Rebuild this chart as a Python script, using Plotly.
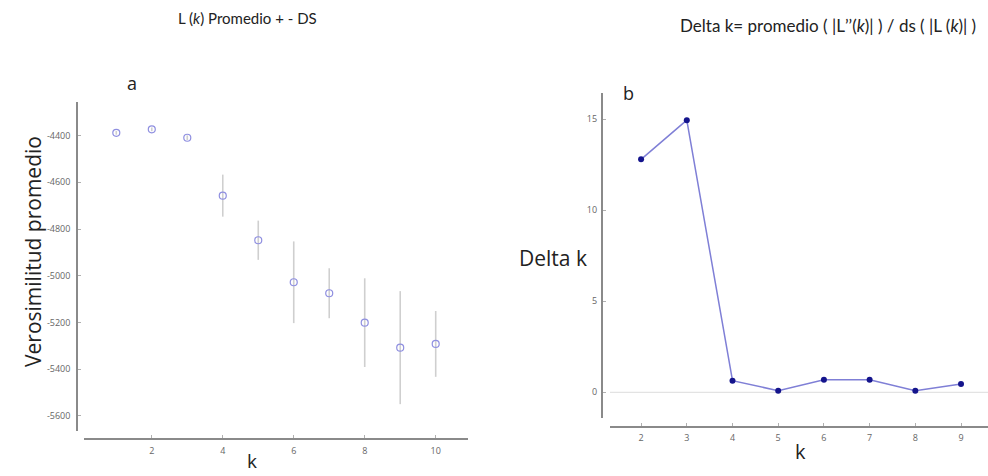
import plotly.graph_objects as go

# Panel a data
k_a = [1, 2, 3, 4, 5, 6, 7, 8, 9, 10]
L_mean = [-4388, -4373, -4409, -4657, -4848, -5028, -5075, -5201, -5308, -5292]
L_sd = [8, 8, 10, 90, 84, 175, 107, 190, 242, 141]
ya_ticks = [-4400, -4600, -4800, -5000, -5200, -5400, -5600]
ya_ticktext = ["-4400", "-4600", "-4800", "-5000", "-5200", "-5400", "-5600"]
xa_ticks = [2, 4, 6, 8, 10]

# Panel b data
k_b = [2, 3, 4, 5, 6, 7, 8, 9]
delta_k = [12.79, 14.94, 0.64, 0.09, 0.69, 0.69, 0.09, 0.46]
yb_ticks = [0, 5, 10, 15]
xb_ticks = [2, 3, 4, 5, 6, 7, 8, 9]

W, H = 988, 476
def px(x):
    return x / W
def py(y):
    return 1 - y / H

fig = go.Figure()

fig.add_trace(go.Scatter(
    x=k_a, y=L_mean, mode="markers",
    marker=dict(symbol="circle-open", size=7, color="#8f8fe0", line=dict(width=1.2)),
    error_y=dict(type="data", array=L_sd, visible=True, thickness=1.6, width=0, color="#cfcfcf"),
    xaxis="x", yaxis="y", showlegend=False,
))

fig.add_trace(go.Scatter(
    x=k_b, y=delta_k, mode="lines+markers",
    line=dict(color="#7f7fd6", width=1.5),
    marker=dict(symbol="circle", size=6, color="#14148c"),
    xaxis="x2", yaxis="y2", showlegend=False,
))

tickfont = dict(family="Open Sans", size=9, color="#666666")
axline = dict(showline=True, linecolor="#8a8a8a", linewidth=1.6, showgrid=False,
              zeroline=False, ticks="inside", ticklen=3, tickwidth=1, tickcolor="#b0b0b0",
              tickfont=tickfont)

fig.update_layout(
    width=W, height=H,
    margin=dict(l=0, r=0, t=0, b=0),
    paper_bgcolor="white", plot_bgcolor="white",
    xaxis=dict(domain=[px(84), px(468)], range=[0.09, 10.91], anchor="free",
               position=py(439), tickvals=xa_ticks, ticklabelstandoff=3, **axline),
    yaxis=dict(domain=[py(431), py(102)], range=[-5665, -4256], anchor="free",
               position=px(77), tickvals=ya_ticks, ticktext=ya_ticktext,
               ticklabelstandoff=4, **axline),
    xaxis2=dict(domain=[px(610), 1.0], range=[1.32, 9.59], anchor="free",
                position=py(427), tickvals=xb_ticks, ticklabelstandoff=2, **axline),
    yaxis2=dict(domain=[py(418), py(93)], range=[-1.41, 16.43], anchor="free",
                position=px(601.7), tickvals=yb_ticks, ticklabelstandoff=2, **axline),
)

# zero line panel b
fig.add_shape(type="line", xref="x2", yref="y2", x0=1.32, x1=9.59, y0=0, y1=0,
              line=dict(color="#dddddd", width=1), layer="below")

ann = []
ann.append(dict(text="L (<i>k</i>) Promedio + - DS", x=px(248), y=py(18),
                font=dict(family="Lato", size=15, color="#222222")))
ann.append(dict(text="Delta k= promedio ( |L\u02bc\u02bc(<i>k</i>)| ) / ds ( |L (<i>k</i>)| )",
                x=px(828), y=py(25), font=dict(family="Lato", size=17, color="#222222")))
ann.append(dict(text="a", x=px(132), y=py(83), font=dict(family="Open Sans", size=18, color="#222222")))
ann.append(dict(text="b", x=px(628), y=py(93), font=dict(family="Open Sans", size=18, color="#222222")))
ann.append(dict(text="Verosimilitud promedio", x=px(33), y=py(252), textangle=-90,
                font=dict(family="Open Sans", size=21, color="#222222")))
ann.append(dict(text="k", x=px(252), y=py(461), font=dict(family="Open Sans", size=19, color="#222222")))
ann.append(dict(text="Delta k", x=px(553), y=py(258), font=dict(family="Open Sans", size=21, color="#222222")))
ann.append(dict(text="k", x=px(800), y=py(451), font=dict(family="Open Sans", size=20, color="#222222")))
for a in ann:
    a.update(xref="paper", yref="paper", showarrow=False, xanchor="center", yanchor="middle")
    fig.add_annotation(**a)

fig.write_html("out.html")
